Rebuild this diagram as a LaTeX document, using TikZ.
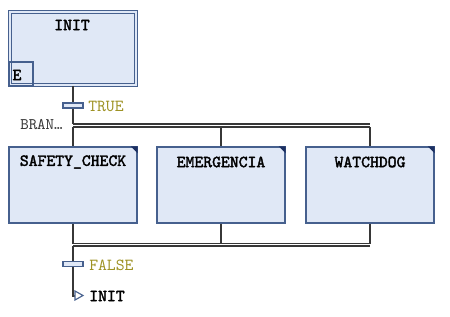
\documentclass[tikz,border=0pt]{standalone}
\usepackage{fontspec}
\newfontfamily\sfcfont[FakeBold=2.2]{lmmono10-regular.otf}
\newfontfamily\condfont{lmmono10-regular.otf}
\usetikzlibrary{positioning}
\definecolor{stepfill}{RGB}{224,232,246}
\definecolor{stepedge}{RGB}{70,96,142}
\definecolor{wirecol}{RGB}{55,55,55}
\definecolor{condolive}{RGB}{158,146,36}
\definecolor{cornerblue}{RGB}{28,48,98}
\tikzset{
  stepbox/.style={draw=stepedge, fill=stepfill, line width=0.9pt, minimum width=3.2cm, minimum height=1.9cm, inner sep=0pt},
  steplabel/.style={font=\sfcfont\fontsize{12}{13}\selectfont, text=black, inner sep=0pt},
  wire/.style={draw=wirecol, line width=0.8pt},
  trans/.style={draw=stepedge, fill=stepfill, line width=0.9pt, minimum width=0.5cm, minimum height=0.12cm, inner sep=0pt},
  cond/.style={text=condolive, font=\condfont\fontsize{12}{13}\selectfont, anchor=west, inner sep=0pt},
}

\begin{document}
\begin{tikzpicture}[x=0.025cm, y=-0.025cm]
  \useasboundingbox (0,0) rectangle (450,317);

  % initial step
  \node[stepbox, double=stepfill, double distance=1.1pt, line width=1pt,
        minimum width=3.15cm, minimum height=1.83cm] (init) at (73,48.5) {};
  \node[steplabel] (initlbl) at (72,25) {INIT};
  \draw[stepedge, line width=0.8pt] (9,62) rectangle (33,86);
  \node[steplabel] (entry) at (17,75) {E};

  % transition into the branch
  \node[trans] (ttrue) at (73,105.5) {};
  \node[cond] (ctrue) at (88,106) {TRUE};
  \coordinate (bl) at (73,124);
  \coordinate (br) at (370,124);
  \coordinate (bl2) at (73,127);
  \coordinate (bm2) at (221,127);
  \coordinate (br2) at (370,127);
  \draw[wire] (init.south) -- (ttrue.north);
  \draw[wire] (ttrue.south) -- (bl);
  \node[font=\condfont\fontsize{11.5}{13}\selectfont, text=wirecol, anchor=east, inner sep=0pt] (bran) at (63,125) {BRAN…};

  % parallel steps
  \node[stepbox] (safety) at (73,185) {};
  \node[stepbox] (emerg) at (221,185) {};
  \node[stepbox] (watch) at (370,185) {};
  \node[steplabel] (safetylbl) at (73,162) {SAFETY\_CHECK};
  \node[steplabel] (emerglbl) at (221,162) {EMERGENCIA};
  \node[steplabel] (watchlbl) at (370,162) {WATCHDOG};
  \foreach \s in {safety, emerg, watch}
    \fill[cornerblue] (\s.north east) -- ++(-7,0) -- ++(7,7) -- cycle;

  % divergence
  \draw[wire] (bl) -- (br);
  \draw[wire] (bl2) -- (br2);
  \draw[wire] (bl2) -- (safety.north);
  \draw[wire] (bm2) -- (emerg.north);
  \draw[wire] (br2) -- (watch.north);

  % convergence
  \coordinate (jl) at (73,243.5);
  \coordinate (jm) at (221,243.5);
  \coordinate (jr) at (370,243.5);
  \coordinate (jl2) at (73,246);
  \coordinate (jr2) at (370,246);
  \draw[wire] (safety.south) -- (jl);
  \draw[wire] (emerg.south) -- (jm);
  \draw[wire] (watch.south) -- (jr);
  \draw[wire] (jl) -- (jr);
  \draw[wire] (jl2) -- (jr2);

  % transition and jump back
  \node[trans] (tfalse) at (73,264) {};
  \node[cond] (cfalse) at (89,265) {FALSE};
  \coordinate (jmp) at (73,296);
  \draw[wire] (jl2) -- (tfalse.north);
  \draw[wire] (tfalse.south) -- (jmp) -- ++(2,0);
  \draw[stepedge, line width=0.8pt, fill=white] (75,291) -- (83,295.5) -- (75,300) -- cycle;
  \node[steplabel, anchor=west] (jumplbl) at (89,296) {INIT};
\end{tikzpicture}
\end{document}
